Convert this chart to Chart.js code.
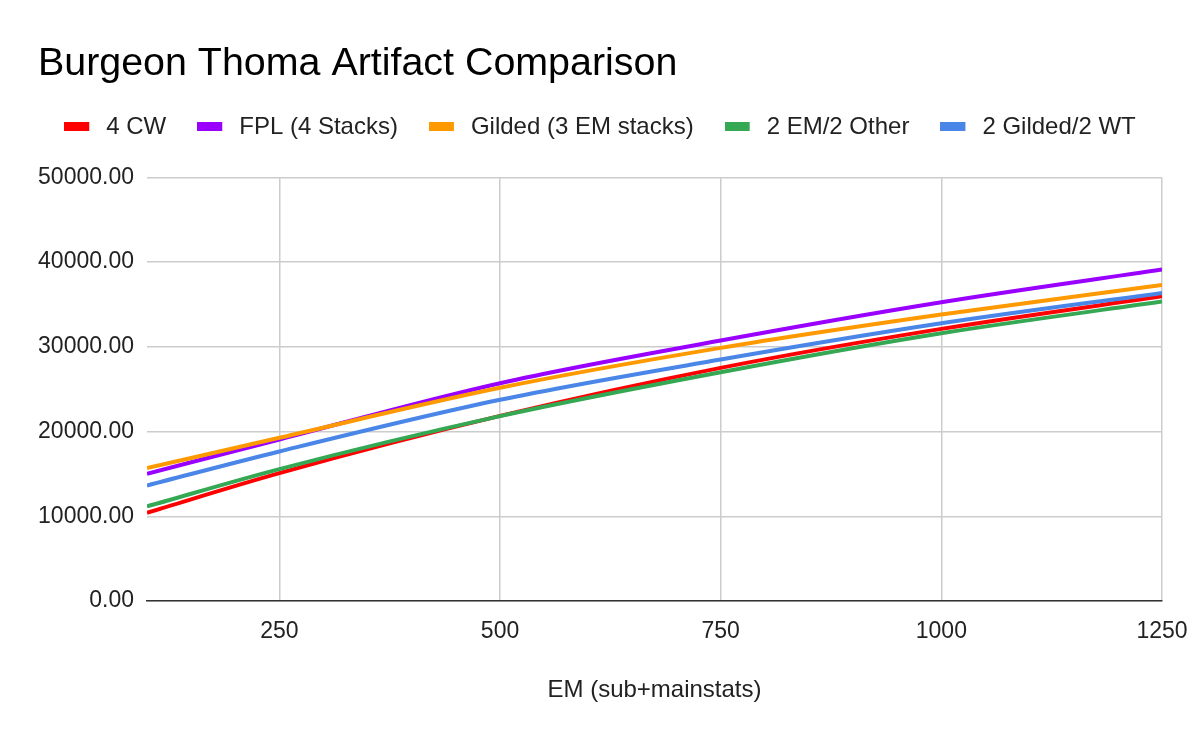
<!DOCTYPE html>
<html>
<head>
<meta charset="utf-8">
<script src="https://cdn.jsdelivr.net/npm/chart.js@4.4.1/dist/chart.umd.min.js"></script>
<style>
  html, body { margin: 0; padding: 0; background: #fff; }
  #wrap { width: 1200px; height: 742px; position: relative; }
</style>
</head>
<body>
<div id="wrap"><canvas id="c" width="1200" height="742"></canvas></div>
<script>
const emValues = [100, 250, 500, 750, 1000, 1250];
const seriesNames = ["4 CW", "FPL (4 Stacks)", "Gilded (3 EM stacks)", "2 EM/2 Other", "2 Gilded/2 WT"];
const cw4      = [10420, 15090, 21850, 27520, 32120, 35970];
const fpl      = [15020, 19070, 25710, 30740, 35260, 39120];
const gilded   = [15690, 19270, 25170, 29880, 33810, 37310];
const em2other = [11170, 15570, 21820, 27000, 31600, 35340];
const gildedWt = [13640, 17650, 23750, 28500, 32780, 36370];
const xTicks = [250, 500, 750, 1000, 1250];
const yTicks = [0, 10000, 20000, 30000, 40000, 50000];
const colors = ["#ff0000", "#9900ff", "#ff9900", "#34a853", "#4a86e8"];

// legend swatch: coloured bar with transparent space after it
function swatch(color) {
  const c = document.createElement('canvas');
  c.width = 30; c.height = 9;
  const g = c.getContext('2d');
  g.fillStyle = color;
  g.fillRect(0, 0, 25, 9);
  return c;
}

const allSeries = [cw4, fpl, gilded, em2other, gildedWt];
const datasets = allSeries.map((vals, i) => ({
  label: seriesNames[i],
  data: emValues.map((x, j) => ({ x: x, y: vals[j] })),
  borderColor: colors[i],
  backgroundColor: colors[i],
  borderWidth: 4,
  pointRadius: 0,
  pointHoverRadius: 0,
  pointStyle: swatch(colors[i]),
  fill: false,
  cubicInterpolationMode: 'monotone',
  order: allSeries.length - i
}));

const FONT = "'Liberation Sans', Arial, sans-serif";

const titleShift = {
  id: 'titleShift',
  afterLayout(chart) {
    if (chart.titleBlock) { chart.titleBlock.left = 38; }
  }
};

new Chart(document.getElementById('c'), {
  type: 'line',
  data: { datasets: datasets },
  plugins: [titleShift],
  options: {
    responsive: false,
    animation: false,
    devicePixelRatio: 1,
    layout: { padding: { left: 30, right: 30, top: 0, bottom: 0 } },
    plugins: {
      title: {
        display: true,
        text: 'Burgeon Thoma Artifact Comparison',
        align: 'start',
        color: '#000',
        font: { family: FONT, size: 39.4, weight: 'normal', lineHeight: 1 },
        padding: { top: 44.5, bottom: 0 }
      },
      subtitle: {
        display: true,
        text: ' ',
        weight: 500,
        font: { size: 1, lineHeight: 1 },
        padding: { top: 0, bottom: 27.5 }
      },
      legend: {
        display: true,
        position: 'top',
        align: 'center',
        labels: {
          usePointStyle: true,
          pointStyleWidth: 30,
          boxWidth: 30,
          boxHeight: 9,
          padding: 31,
          color: '#222',
          font: { family: FONT, size: 24 },
          sort: (a, b) => a.datasetIndex - b.datasetIndex
        }
      },
      tooltip: { enabled: false }
    },
    scales: {
      x: {
        type: 'linear',
        min: 100,
        max: 1250,
        afterBuildTicks: (scale) => { scale.ticks = xTicks.map(v => ({ value: v })); },
        afterFit: (scale) => { scale.height = 141; scale.paddingRight = 38; scale.paddingLeft = 0; },
        grid: { color: '#cccccc', lineWidth: 1.5, drawTicks: false },
        border: { display: true, color: '#333333', width: 1.5 },
        ticks: {
          color: '#222',
          padding: 17,
          maxRotation: 0,
          font: { family: FONT, size: 23 },
          callback: (v) => String(v)
        },
        title: {
          display: true,
          text: 'EM (sub+mainstats)',
          color: '#222',
          font: { family: FONT, size: 24 },
          padding: { top: 20, bottom: 37.6 }
        }
      },
      y: {
        type: 'linear',
        min: 0,
        max: 50000,
        afterBuildTicks: (scale) => { scale.ticks = yTicks.map(v => ({ value: v })); },
        afterFit: (scale) => { scale.width = 147 - 30; },
        grid: { color: '#cccccc', lineWidth: 1.5, drawTicks: false },
        border: { display: false },
        ticks: {
          color: '#222',
          padding: 13,
          font: { family: FONT, size: 23 },
          callback: (v) => Number(v).toFixed(2)
        }
      }
    }
  }
});
</script>
</body>
</html>
